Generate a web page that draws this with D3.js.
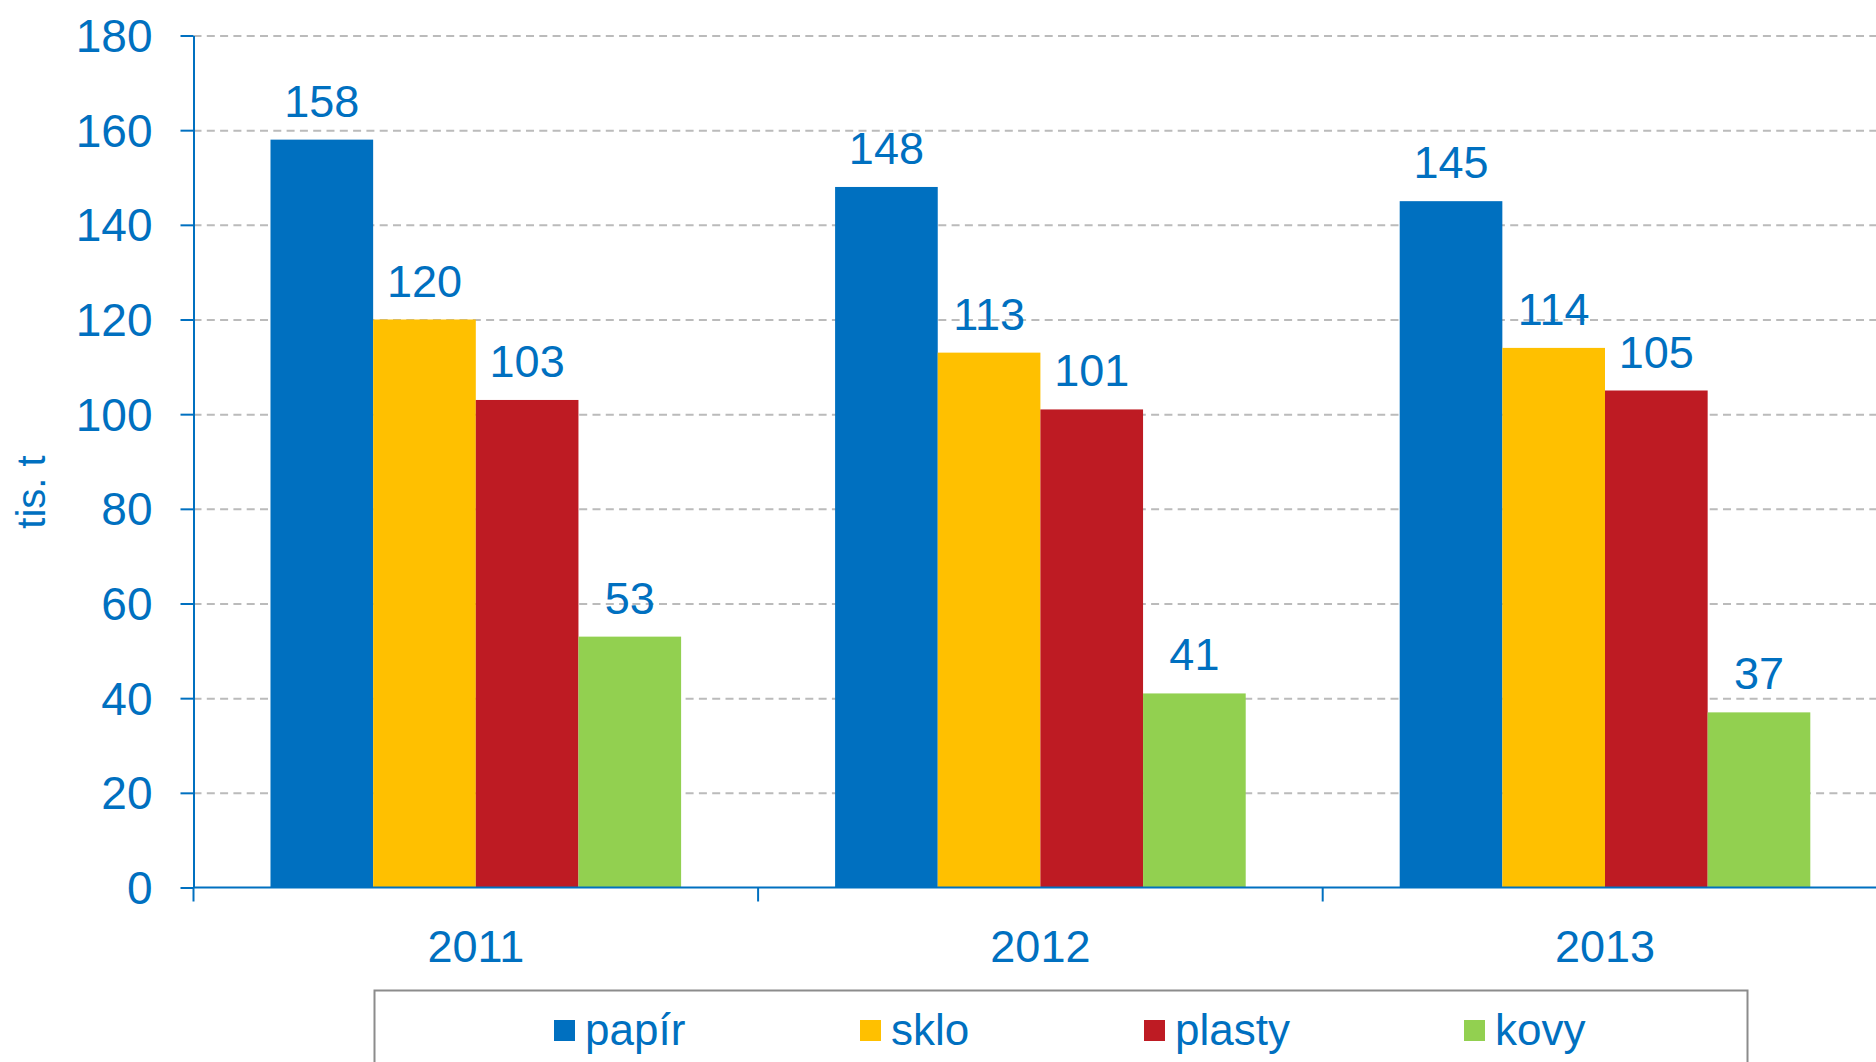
<!DOCTYPE html>
<html>
<head>
<meta charset="utf-8">
<script src="https://cdn.jsdelivr.net/npm/d3@7"></script>
<style>
  html, body { margin: 0; padding: 0; background: #fff; }
  svg text { font-family: "Liberation Sans", Arial, sans-serif; fill: #0070C0; }
</style>
</head>
<body>
<div id="chart"></div>
<script>
// data
const categories = ["2011", "2012", "2013"];
const seriesNames = ["papír", "sklo", "plasty", "kovy"];
const papir = [158, 148, 145];
const sklo = [120, 113, 114];
const plasty = [103, 101, 105];
const kovy = [53, 41, 37];
const yTicks = [0, 20, 40, 60, 80, 100, 120, 140, 160, 180];

const colors = ["#0070C0", "#FFC000", "#BE1B23", "#92D050"];
const values = [papir, sklo, plasty, kovy];

const width = 1876, height = 1062;
const margin = {left: 193.5, top: 35.5, bottom: 887.5};
const band = 564.6;

const svg = d3.select("#chart")
  .append("svg")
  .attr("width", width)
  .attr("height", height);

const y = d3.scaleLinear()
  .domain([0, 180])
  .range([margin.bottom, margin.top]);

// plot runs past the right edge of the picture, like in the original
const x0 = d3.scaleBand()
  .domain(categories)
  .range([margin.left, margin.left + band * categories.length]);

// gap width 150% -> outer padding of 0.75 bar
const x1 = d3.scaleBand()
  .domain(seriesNames)
  .range([0, x0.bandwidth()])
  .paddingInner(0)
  .paddingOuter(0.75);

// dashed grid
svg.append("g")
  .attr("class", "grid")
  .attr("transform", `translate(${margin.left},0)`)
  .call(d3.axisLeft(y).tickValues(yTicks.slice(1)).tickSize(-(width - margin.left)).tickFormat(""))
  .call(g => g.select(".domain").remove())
  .call(g => g.selectAll("line")
      .attr("stroke", "#BBBBBB")
      .attr("stroke-width", 2)
      .attr("stroke-dasharray", "8,5.3"));

// bars
categories.forEach((cat, i) => {
  const grp = svg.append("g").attr("transform", `translate(${x0(cat)},0)`);
  seriesNames.forEach((s, j) => {
    const v = values[j][i];
    grp.append("rect")
      .attr("x", x1(s))
      .attr("y", y(v))
      .attr("width", x1.bandwidth())
      .attr("height", y(0) - y(v))
      .attr("fill", colors[j]);
    grp.append("text")
      .attr("x", x1(s) + x1.bandwidth() / 2)
      .attr("y", y(v) - 23)
      .attr("text-anchor", "middle")
      .attr("font-size", "45px")
      .text(v);
  });
});

// y axis
const yAxis = svg.append("g")
  .attr("transform", `translate(${margin.left},0)`)
  .call(d3.axisLeft(y).tickValues(yTicks).tickSize(13).tickPadding(28).tickSizeOuter(0))
  .attr("font-size", "46px");
yAxis.select(".domain").attr("stroke", "#0070C0").attr("stroke-width", 2);
yAxis.selectAll(".tick line").attr("stroke", "#0070C0").attr("stroke-width", 2);
yAxis.selectAll(".tick text").attr("fill", "#0070C0").attr("dy", "0.35em")
  .attr("font-family", "Liberation Sans, Arial, sans-serif");

// x axis: line, tick marks at category edges, labels at centres
svg.append("line")
  .attr("x1", margin.left).attr("x2", width)
  .attr("y1", y(0)).attr("y2", y(0))
  .attr("stroke", "#0070C0").attr("stroke-width", 2);

svg.selectAll(".xtick")
  .data(categories)
  .enter()
  .append("line")
  .attr("class", "xtick")
  .attr("x1", d => x0(d)).attr("x2", d => x0(d))
  .attr("y1", y(0)).attr("y2", y(0) + 14)
  .attr("stroke", "#0070C0").attr("stroke-width", 2);

svg.selectAll(".xlabel")
  .data(categories)
  .enter()
  .append("text")
  .attr("class", "xlabel")
  .attr("x", d => x0(d) + x0.bandwidth() / 2)
  .attr("y", 962)
  .attr("text-anchor", "middle")
  .attr("font-size", "45px")
  .text(d => d);

// y axis title
svg.append("text")
  .attr("transform", `translate(45,492) rotate(-90)`)
  .attr("text-anchor", "middle")
  .attr("font-size", "40px")
  .text("tis. t");

// legend
svg.append("rect")
  .attr("x", 374.5).attr("y", 990.5)
  .attr("width", 1373).attr("height", 120)
  .attr("fill", "none")
  .attr("stroke", "#8C8C8C")
  .attr("stroke-width", 2);

const legendX = [554, 860, 1144, 1464];
seriesNames.forEach((s, j) => {
  svg.append("rect")
    .attr("x", legendX[j]).attr("y", 1020)
    .attr("width", 21).attr("height", 21)
    .attr("fill", colors[j]);
  svg.append("text")
    .attr("x", legendX[j] + 31).attr("y", 1045)
    .attr("font-size", "44px")
    .text(s);
});
</script>
</body>
</html>
